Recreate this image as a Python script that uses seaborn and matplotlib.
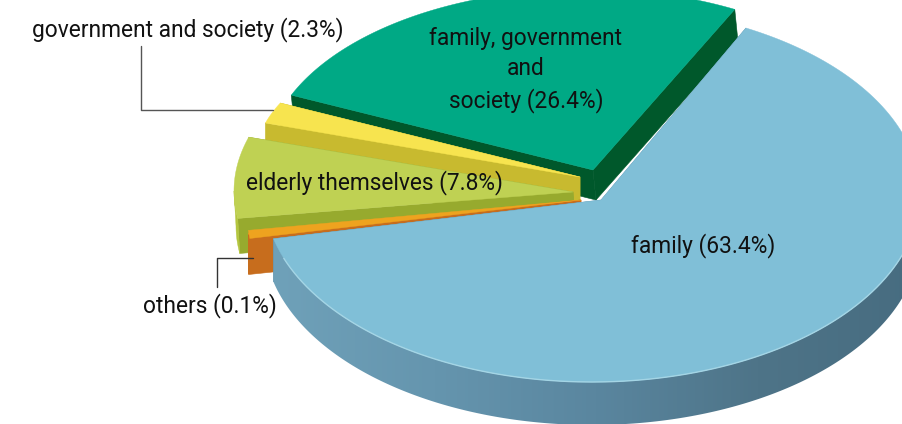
import numpy as np
import matplotlib
matplotlib.use("Agg")
import matplotlib.pyplot as plt
from matplotlib.colors import LinearSegmentedColormap
from matplotlib.patches import Polygon
import seaborn as sns

# Shares of responses, in percent, in drawing order (back slice to front slice)
categories = ["family, government\nand\nsociety", "government and society",
              "elderly themselves", "others", "family"]
shares = [26.4, 2.3, 7.8, 0.1, 63.4]

top_colors = ["#00a985", "#f7e44f", "#bfd153", "#eea31f", "#80bfd7"]
wall_colors = ["#00582b", "#c8ba2f", "#97aa2e", "#c76d1d", "#5f8fa9"]
front_colors = ["#00582b", "#c8ba2f", "#b4c63e", "#c76d1d", "#5f8fa9"]

sns.set_theme(style="white")
plt.rcParams["font.family"] = ["Roboto", "DejaVu Sans"]

START_ANGLE = 62.0

# Per-slice layout of the tilted, exploded pie, in figure pixels
apex = [(593, 170), (580, 177), (573, 192), (581, 200), (601, 200)]
arc_center = [(585, 163), (574, 160), (514, 191), (581, 190), (592, 194)]
arc_radius = [(319, 174), (319, 146), (280, 168), (342, 187), (328, 188)]
rim_turn = [0, 0, -4, 0, 0]
wall_drop = [(3, 30), (0, 30), (2, 35), (0, 40), (0, 43)]

fig = plt.figure(figsize=(9.03, 4.24), dpi=100, facecolor="white")
ax = fig.add_axes([0, 0, 1, 1])
ax.set_xlim(0, 903)
ax.set_ylim(424, 0)
ax.axis("off")

wall_ramp = LinearSegmentedColormap.from_list(
    "wall", ["#6fa1b9", "#6595ae", "#5a869f", "#4e7488", "#476c80"])


def rim(i, angles):
    cx, cy = arc_center[i]
    rx, ry = arc_radius[i]
    t = np.radians(np.asarray(angles) + rim_turn[i])
    return cx + rx * np.cos(t), cy - ry * np.sin(t)


edges = START_ANGLE + np.concatenate([[0], np.cumsum(shares)]) * 3.6

for i, share in enumerate(shares):
    a1, a2 = edges[i], edges[i + 1]
    arc = np.linspace(a1, a2, max(int(a2 - a1) * 2, 4))
    xs, ys = rim(i, arc)
    ax0, ay0 = apex[i]
    dx, dy = wall_drop[i]

    # Radial side walls, from the apex out to each end of the rim
    for x_end, y_end in ((xs[0], ys[0]), (xs[-1], ys[-1])):
        ax.fill([ax0, x_end, x_end + dx, ax0 + dx],
                [ay0, y_end, y_end + dy, ay0 + dy],
                color=wall_colors[i], lw=0.4, zorder=2 * i + 1)

    # Outer wall on the part of the rim that faces the viewer
    low, high = max(a1 + rim_turn[i], 180) - rim_turn[i], min(a2 + rim_turn[i], 360) - rim_turn[i]
    if high > low:
        wx, wy = rim(i, np.linspace(low, high, 240))
        outline = np.c_[np.r_[wx, wx[::-1] + dx], np.r_[wy, wy[::-1] + dy]]
        if i == len(shares) - 1:
            shape = Polygon(outline, closed=True, facecolor="none", edgecolor="none",
                            transform=ax.transData)
            ax.add_patch(shape)
            ramp = ax.imshow(np.linspace(0, 1, 256)[None, :], cmap=wall_ramp, aspect="auto",
                             extent=(wx.min(), wx.max(), 424, 0), zorder=2 * i + 1)
            ramp.set_clip_path(shape)
        else:
            ax.fill(outline[:, 0], outline[:, 1], color=front_colors[i], lw=0.3, zorder=2 * i + 1)

    # Top face of the slice
    ax.fill(np.r_[ax0, xs], np.r_[ay0, ys], color=top_colors[i], lw=0.3, zorder=2 * i + 2)

    # Thin bevel that widens the narrowest slice towards its rim
    if i == 3:
        ax.fill([ax0, xs[0], xs[-1] + 1, xs[-1] + 1], [ay0, ys[0] - 3, ys[-1] + 4, ys[-1] + 4],
                color=top_colors[i], lw=0.3, zorder=2 * i + 2)

ax.set_xlim(0, 903)
ax.set_ylim(424, 0)

# Pale highlight along the front rim of the largest slice
front = np.linspace(max(edges[4], 200), 360, 200)
ax.plot(*rim(4, front), color="#a4d5e5", lw=1.0, zorder=11)

text_style = dict(color="#111111", ha="center", va="center", fontsize=16.4, zorder=20)
ax.text(188, 30, f"{categories[1]} ({shares[1]}%)", **text_style)
ax.text(526, 70, f"{categories[0]} ({shares[0]}%)", linespacing=1.38, **text_style)
ax.text(374, 183, f"{categories[2]} ({shares[2]}%)", **text_style)
ax.text(703, 246, f"{categories[4]} ({shares[4]}%)", **text_style)
ax.text(210, 306, f"{categories[3]} ({shares[3]}%)", **text_style)

# Leader lines for the two labels set outside the pie
ax.plot([141, 141, 273], [46, 110, 110], color="#555555", lw=1.0, zorder=15)
ax.plot([217, 217, 253], [287, 258, 258], color="#333333", lw=1.0, zorder=15)

fig.savefig("out.png", dpi=100, facecolor="white")
